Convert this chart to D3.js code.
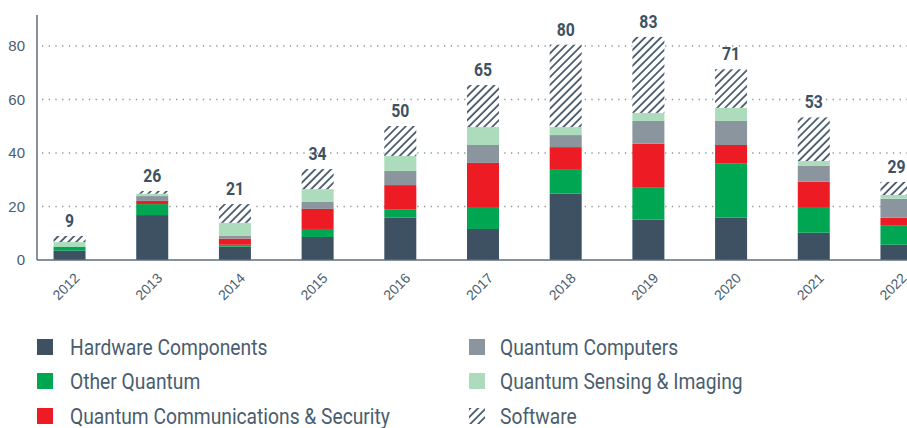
<!DOCTYPE html>
<html><head><meta charset="utf-8">
<script src="https://cdn.jsdelivr.net/npm/d3@7"></script>
<style>
body{margin:0;background:#fff;}
svg{display:block;font-family:Roboto,"Liberation Sans",sans-serif;}
</style></head><body>
<svg id="c" width="907" height="428"></svg>
<script>
const years = ["2012","2013","2014","2015","2016","2017","2018","2019","2020","2021","2022"];
const hardware  = [3.5, 16.8, 5.0, 8.6, 15.8, 11.6, 24.8, 15.1, 15.8, 10.2, 5.7];
const other     = [1.5, 4.1, 0.7, 3.0, 3.0, 8.2, 9.2, 11.9, 20.2, 9.6, 7.1];
const comms     = [0, 1.2, 2.3, 7.5, 9.2, 16.5, 8.2, 16.5, 7.0, 9.5, 3.0];
const computers = [0, 1.8, 1.0, 2.6, 5.3, 6.7, 4.5, 8.5, 9.0, 6.0, 7.1];
const sensing   = [1.7, 0.9, 4.9, 4.8, 5.6, 6.7, 3.0, 3.0, 4.9, 1.7, 1.4];
const software  = [2.3, 1.0, 7.0, 7.5, 11.2, 15.7, 30.8, 28.4, 14.4, 16.3, 4.9];
const totalLabels = ["9","26","21","34","50","65","80","83","71","53","29"];
const yTicks = [0, 20, 40, 60, 80];
const seriesNames = ["Hardware Components","Other Quantum","Quantum Communications & Security","Quantum Computers","Quantum Sensing & Imaging","Software"];
const seriesColors = ["#3d5163","#00a651","#ed1c24","#8a959e","#acdcbc","url(#hatch)"];

const keys = ["hw","oq","qc","comp","sens","sw"];
const arrays = [hardware, other, comms, computers, sensing, software];
const rows = years.map((y,i)=>{const r={year:y}; keys.forEach((k,j)=>r[k]=arrays[j][i]); return r;});

const svg = d3.select("#c");
const defs = svg.append("defs");
const pat = defs.append("pattern").attr("id","hatch").attr("patternUnits","userSpaceOnUse")
  .attr("width",5.6).attr("height",5.6).attr("patternTransform","rotate(45)");
pat.append("rect").attr("width",5.6).attr("height",5.6).attr("fill","#fff");
pat.append("line").attr("x1",1).attr("y1",0).attr("x2",1).attr("y2",5.6).attr("stroke","#3d5163").attr("stroke-width",1.7);

const x = d3.scaleBand().domain(years).range([37, 929]).paddingInner(0.613).paddingOuter(0.2);
const y = d3.scaleLinear().domain([0, 80]).range([260, 46]);

// gridlines
svg.append("g").selectAll("line").data(yTicks.filter(d=>d>0)).join("line")
  .attr("x1",42).attr("x2",907).attr("y1",d=>y(d)).attr("y2",d=>y(d))
  .attr("stroke","#8a959e").attr("stroke-width",1.3).attr("stroke-dasharray","1.3,5.4");

// y axis
const yAxis = svg.append("g").attr("transform","translate(37,0)")
  .call(d3.axisLeft(y).tickValues(yTicks).tickSize(0).tickPadding(12));
yAxis.select(".domain").remove();
yAxis.selectAll("text").attr("fill","#4a5d6e").attr("font-size",15).attr("font-family","inherit");
svg.append("line").attr("x1",37).attr("x2",37).attr("y1",15).attr("y2",260).attr("stroke","#5d6d7a").attr("stroke-width",1.5);

// stacked bars
const stack = d3.stack().keys(keys)(rows);
svg.append("g").selectAll("g").data(stack).join("g")
  .attr("fill",(d,i)=>seriesColors[i])
  .selectAll("rect").data(d=>d).join("rect")
  .attr("x",d=>x(d.data.year)).attr("width",x.bandwidth())
  .attr("y",d=>y(d[1])).attr("height",d=>Math.max(0,y(d[0])-y(d[1])));

// x axis
svg.append("line").attr("x1",37).attr("x2",907).attr("y1",260).attr("y2",260).attr("stroke","#5d6d7a").attr("stroke-width",1.5);
const xAxis = svg.append("g").attr("transform","translate(0,260)").call(d3.axisBottom(x).tickSize(0));
xAxis.select(".domain").remove();
xAxis.selectAll("text").attr("fill","#4a5d6e").attr("font-size",14).attr("font-family","inherit")
  .attr("text-anchor","end").attr("dy",0).attr("y",0)
  .attr("transform","translate(11,19) rotate(-45)");

// totals
const totals = rows.map(r=>d3.sum(keys,k=>r[k]));
svg.append("g").selectAll("text").data(years).join("text")
  .attr("transform",(d,i)=>`translate(${x(d)+x.bandwidth()/2},${y(totals[i])-9}) scale(0.9,1)`)
  .attr("text-anchor","middle").attr("font-size",17.5).attr("font-weight","bold").attr("fill","#3d5163")
  .text((d,i)=>totalLabels[i]);

// legend
const legPos = [[37,339],[37,373],[37,408],[469,339],[469,373],[469,408]];
const lg = svg.append("g").selectAll("g").data(seriesNames).join("g")
  .attr("transform",(d,i)=>`translate(${legPos[i][0]},${legPos[i][1]})`);
lg.append("rect").attr("width",16).attr("height",16).attr("fill",(d,i)=>seriesColors[i]);
lg.append("text").attr("transform",(d,i)=>`translate(${i<3?33:31},15.5) scale(0.895,1)`)
  .attr("font-size",21.5).attr("fill","#4a5d6e").text(d=>d);
</script>
</body></html>
